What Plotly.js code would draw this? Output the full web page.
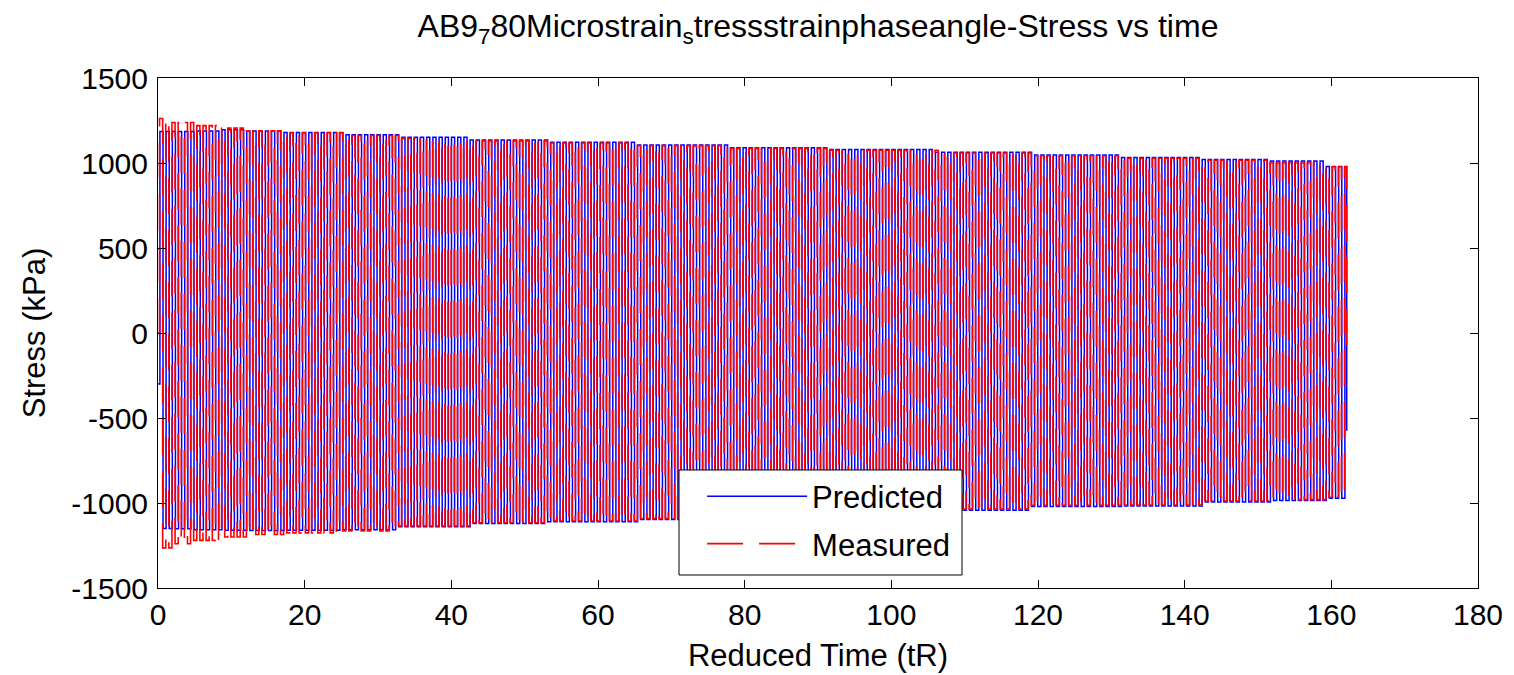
<!DOCTYPE html>
<html>
<head>
<meta charset="utf-8">
<script src="https://cdn.plot.ly/plotly-3.0.1.min.js"></script>
<style>
  html, body { margin: 0; padding: 0; background: #ffffff; }
  #chart { width: 1514px; height: 675px; }
</style>
</head>
<body>
<div id="chart"></div>
<script>
// ---- Values ----
// Envelope readings (stepped) of the oscillating stress signals, kPa
const envTimes       = [0, 1.9, 4.6, 8.5, 12, 17, 25, 32.5, 42.5, 53, 65, 78, 91, 106, 119, 131, 142, 151.5, 159];
const measuredUpper  = [1262, 1238, 1220, 1205, 1190, 1178, 1162, 1145, 1130, 1118, 1102, 1086, 1075, 1059, 1043, 1028, 1016, 1000, 978];
const measuredLower  = [-1264, -1240, -1220, -1200, -1185, -1176, -1165, -1135, -1116, -1106, -1092, -1078, -1062, -1036, -1014, -1012, -988, -980, -966];
const predictedUpper = [1186, 1186, 1188, 1195, 1188, 1180, 1166, 1152, 1136, 1122, 1106, 1090, 1079, 1063, 1047, 1033, 1021, 1012, 980];
const predictedLower = [-1150, -1152, -1158, -1160, -1162, -1160, -1158, -1140, -1121, -1111, -1097, -1083, -1068, -1042, -1020, -1018, -994, -986, -972];
const cyclePeriod    = 0.846;   // tR per loading cycle (two stripes per cycle)
const predictedShift = 0.05;    // phase lag of the predicted signal, tR
const endTime        = 162.1;
const measuredStart  = 0, measuredEnd = -160;
const predictedStart = -300, predictedEnd = -575;

const xTickVals  = [0, 20, 40, 60, 80, 100, 120, 140, 160, 180];
const xTickText  = ['0', '20', '40', '60', '80', '100', '120', '140', '160', '180'];
const yTickVals  = [-1500, -1000, -500, 0, 500, 1000, 1500];
const yTickText  = ['-1500', '-1000', '-500', '0', '500', '1000', '1500'];

function stepAt(times, vals, t) {
  let v = vals[0];
  for (let i = 0; i < times.length; i++) if (times[i] <= t) v = vals[i];
  return v;
}

// peaks and troughs of each cycle, taken from the envelope readings
function buildSeries(upper, lower, shift, startVal, endVal) {
  const xs = [0], ys = [startVal];
  for (let k = 0; ; k++) {
    const tp = shift + k * cyclePeriod + cyclePeriod * 0.25;
    if (tp >= endTime) break;
    xs.push(tp); ys.push(stepAt(envTimes, upper, tp));
    const tt = tp + cyclePeriod * 0.5;
    if (tt >= endTime) break;
    xs.push(tt); ys.push(stepAt(envTimes, lower, tt));
  }
  xs.push(endTime); ys.push(endVal);
  return { xs, ys };
}

const pred = buildSeries(predictedUpper, predictedLower, predictedShift, predictedStart, predictedEnd);
const meas = buildSeries(measuredUpper, measuredLower, 0, measuredStart, measuredEnd);

const FONT = 'Liberation Sans, Arial, Helvetica, sans-serif';

const data = [
  { type: 'scatter', mode: 'lines', name: 'Predicted', x: pred.xs, y: pred.ys,
    legendgroup: 'p',
    line: { color: '#0000ff', width: 1.5, shape: 'hv' } },
  { type: 'scatter', mode: 'lines', name: 'Measured', x: meas.xs, y: meas.ys,
    legendgroup: 'm',
    line: { color: '#ff0000', width: 1.6, dash: '36px,16px', shape: 'hv' } }
];

const axisCommon = {
  showline: true, linecolor: '#000000', linewidth: 1, mirror: 'ticks',
  ticks: 'inside', ticklen: 8, tickwidth: 1, tickcolor: '#000000',
  showgrid: false, zeroline: false,
  tickfont: { family: FONT, size: 30, color: '#000000' }
};

const layout = {
  width: 1514, height: 675,
  paper_bgcolor: '#ffffff', plot_bgcolor: '#ffffff',
  margin: { l: 158, r: 36, t: 78, b: 87 },
  title: {
    text: 'AB9<sub>7</sub>80Microstrain<sub>s</sub>tressstrainphaseangle-Stress vs time',
    font: { family: FONT, size: 32, color: '#000000' },
    x: 0.5, xref: 'paper', xanchor: 'center',
    y: 0.962, yref: 'container', yanchor: 'middle'
  },
  xaxis: Object.assign({}, axisCommon, {
    range: [0, 180], tickvals: xTickVals, ticktext: xTickText,
    title: { text: 'Reduced Time (tR)', font: { family: FONT, size: 31, color: '#000000' }, standoff: 14 }
  }),
  yaxis: Object.assign({}, axisCommon, {
    range: [-1500, 1500], tickvals: yTickVals, ticktext: yTickText,
    ticklabelstandoff: 3,
    title: { text: 'Stress (kPa)', font: { family: FONT, size: 31, color: '#000000' }, standoff: 16 }
  }),
  shapes: [
    { type: 'rect', xref: 'paper', yref: 'paper',
      x0: 0.3947, x1: 0.6091, y0: 0.0255, y1: 0.2314,
      fillcolor: '#ffffff', line: { color: '#000000', width: 1 }, layer: 'above' }
  ],
  showlegend: true,
  legend: {
    x: 0.4122, xanchor: 'left', y: 0.232, yanchor: 'top',
    bgcolor: 'rgba(0,0,0,0)', borderwidth: 0,
    traceorder: 'grouped', tracegroupgap: 4,
    font: { family: FONT, size: 31, color: '#000000' },
    itemwidth: 100
  }
};

Plotly.newPlot('chart', data, layout, { displayModeBar: false, staticPlot: true });
</script>
</body>
</html>
